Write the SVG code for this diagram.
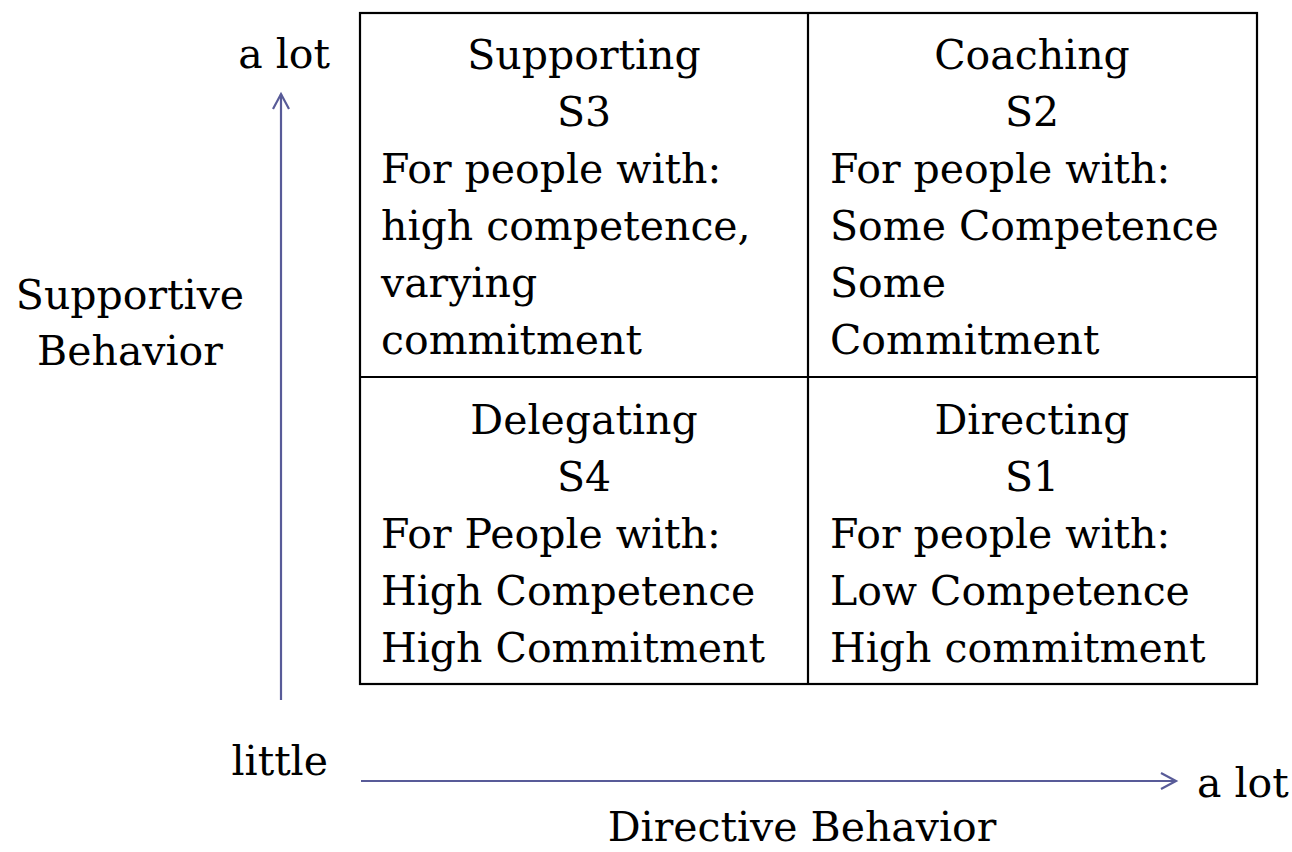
<svg xmlns="http://www.w3.org/2000/svg" width="1292" height="852" viewBox="0 0 1292 852">
  <defs>
    <style>
      text { font-family: "DejaVu Serif", "Liberation Serif", serif; font-size: 41px; fill: #000; }
      .c { text-anchor: middle; }
      .e { text-anchor: end; }
      .grid { fill: none; stroke: #000; stroke-width: 2.2; }
      .axis { fill: none; stroke: #585b98; stroke-width: 2.2; }
    </style>
    <marker id="chev" viewBox="0 0 20 20" refX="16" refY="10" markerWidth="20" markerHeight="20" markerUnits="userSpaceOnUse" orient="auto">
      <path d="M1,2 L16,10 L1,18" fill="none" stroke="#585b98" stroke-width="2.2"/>
    </marker>
  </defs>
  <rect width="1292" height="852" fill="#fff"/>

  <!-- quadrant grid -->
  <g id="grid">
    <rect class="grid" x="360" y="13" width="897" height="671"/>
    <line class="grid" x1="808" y1="13" x2="808" y2="684"/>
    <line class="grid" x1="360" y1="377" x2="1257" y2="377"/>
  </g>

  <g id="s3-supporting">
    <text class="c" x="584" y="69">Supporting</text>
    <text class="c" x="584" y="126">S3</text>
    <text x="381" y="183">For people with:</text>
    <text x="381" y="240">high competence,</text>
    <text x="381" y="297">varying</text>
    <text x="381" y="354">commitment</text>
  </g>

  <g id="s2-coaching">
    <text class="c" x="1032" y="69">Coaching</text>
    <text class="c" x="1032" y="126">S2</text>
    <text x="830" y="183">For people with:</text>
    <text x="830" y="240">Some Competence</text>
    <text x="830" y="297">Some</text>
    <text x="830" y="354">Commitment</text>
  </g>

  <g id="s4-delegating">
    <text class="c" x="584" y="434">Delegating</text>
    <text class="c" x="584" y="491">S4</text>
    <text x="381" y="548">For People with:</text>
    <text x="381" y="605">High Competence</text>
    <text x="381" y="662">High Commitment</text>
  </g>

  <g id="s1-directing">
    <text class="c" x="1032" y="434">Directing</text>
    <text class="c" x="1032" y="491">S1</text>
    <text x="830" y="548">For people with:</text>
    <text x="830" y="605">Low Competence</text>
    <text x="830" y="662">High commitment</text>
  </g>

  <!-- axes -->
  <g id="connectors">
    <line class="axis" x1="281" y1="700" x2="281" y2="94" marker-end="url(#chev)"/>
    <line class="axis" x1="361" y1="781" x2="1176" y2="781" marker-end="url(#chev)"/>
  </g>

  <g id="axis-labels">
    <text class="e" x="330" y="68">a lot</text>
    <text class="c" x="130" y="309">Supportive</text>
    <text class="c" x="130" y="365">Behavior</text>
    <text class="e" x="328" y="775">little</text>
    <text x="1197" y="797">a lot</text>
    <text class="c" x="802" y="841">Directive Behavior</text>
  </g>
</svg>
